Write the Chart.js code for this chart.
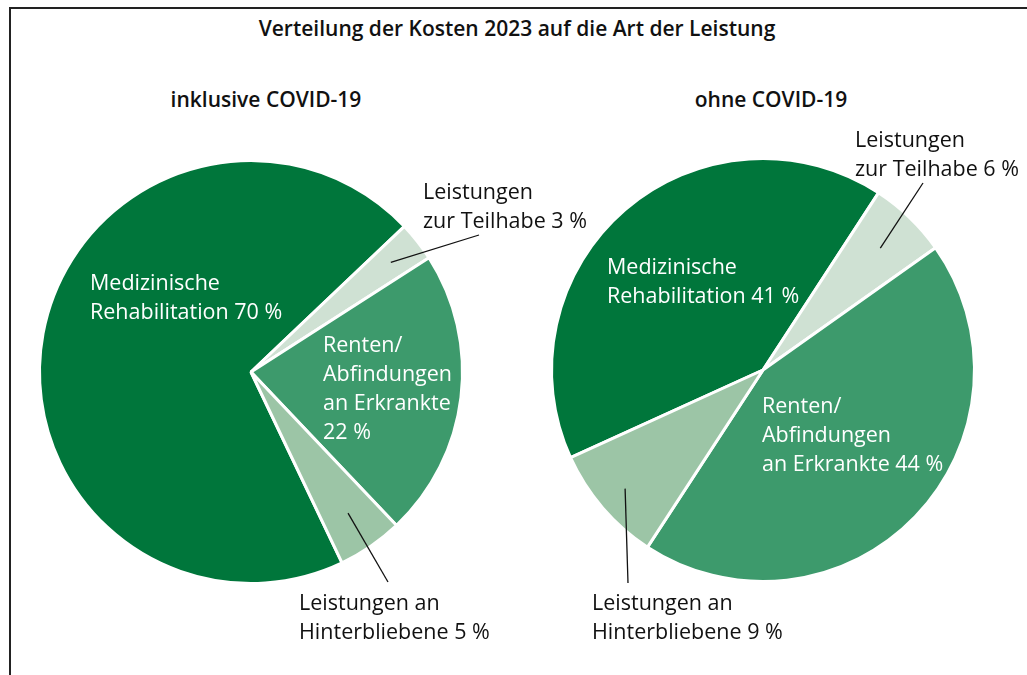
<!DOCTYPE html>
<html lang="de">
<head>
<meta charset="utf-8">
<title>Verteilung der Kosten 2023</title>
<script src="https://cdn.jsdelivr.net/npm/chart.js@4"></script>
<style>
  html, body { margin: 0; padding: 0; background: #fff; }
  body { width: 1027px; height: 675px; position: relative; overflow: hidden; font-family: "Open Sans", sans-serif; }
  .frame { position: absolute; left: 9px; top: 7px; width: 1100px; height: 800px; border-left: 2px solid #222; border-top: 2px solid #222; }
  .title { position: absolute; top: 14px; left: 0; width: 1034px; text-align: center; font-weight: 600; font-size: 21px; color: #111; }
  .sub { position: absolute; top: 85px; font-weight: 600; font-size: 21px; color: #111; text-align: center; width: 300px; }
  .wrap { position: absolute; top: 0; height: 675px; }
</style>
</head>
<body>
<div class="frame"></div>
<div class="title">Verteilung der Kosten 2023 auf die Art der Leistung</div>
<div class="sub" style="left:116px">inklusive COVID-19</div>
<div class="sub" style="left:621px">ohne COVID-19</div>
<div class="wrap" style="left:0; width:620px"><canvas id="pieInkl"></canvas></div>
<div class="wrap" style="left:513px; width:514px"><canvas id="pieOhne"></canvas></div>

<script>
// Daten
const categories = ['Medizinische Rehabilitation', 'Leistungen zur Teilhabe', 'Renten/Abfindungen an Erkrankte', 'Leistungen an Hinterbliebene'];
const inklusiveCovid = [70, 3, 22, 5];
const ohneCovid = [41, 6, 44, 9];
const colors = ['#00763b', '#cfe1d3', '#3d9a6c', '#9cc5a6'];

const FONT = '21.5px "Open Sans", sans-serif';

// Beschriftungen: Textzeilen, Position im Canvas, Farbe, optional Linie zum Segment
const labelsInkl = [
    { idx: 0, lines: ['Medizinische', 'Rehabilitation ' + inklusiveCovid[0] + ' %'], x: 90, y: 284, color: '#fff' },
    { idx: 1, lines: ['Leistungen', 'zur Teilhabe ' + inklusiveCovid[1] + ' %'], x: 423, y: 193, color: '#111', lineTo: [479, 235], frac: 0.84 },
    { idx: 2, lines: ['Renten/', 'Abfindungen', 'an Erkrankte', inklusiveCovid[2] + ' %'], x: 323, y: 346, color: '#fff' },
    { idx: 3, lines: ['Leistungen an', 'Hinterbliebene ' + inklusiveCovid[3] + ' %'], x: 299, y: 604, color: '#111', lineTo: [388, 582], frac: 0.81 }
];
const labelsOhne = [
    { idx: 0, lines: ['Medizinische', 'Rehabilitation ' + ohneCovid[0] + ' %'], x: 94, y: 268, color: '#fff' },
    { idx: 1, lines: ['Leistungen', 'zur Teilhabe ' + ohneCovid[1] + ' %'], x: 342, y: 141, color: '#111', lineTo: [410, 183], frac: 0.8 },
    { idx: 2, lines: ['Renten/', 'Abfindungen', 'an Erkrankte ' + ohneCovid[2] + ' %'], x: 249, y: 407, color: '#fff' },
    { idx: 3, lines: ['Leistungen an', 'Hinterbliebene ' + ohneCovid[3] + ' %'], x: 79, y: 604, color: '#111', lineTo: [115, 583], frac: 0.86 }
];

const pieLabels = {
    id: 'pieLabels',
    afterDatasetsDraw(chart, args, opts) {
        const ctx = chart.ctx;
        const arcs = chart.getDatasetMeta(0).data;
        ctx.save();
        ctx.font = FONT;
        ctx.textBaseline = 'middle';
        ctx.textAlign = 'left';
        opts.items.forEach(item => {
            if (item.lineTo) {
                const a = arcs[item.idx];
                const p = a.getProps(['x', 'y', 'startAngle', 'endAngle', 'outerRadius'], true);
                const mid = (p.startAngle + p.endAngle) / 2;
                ctx.beginPath();
                ctx.moveTo(p.x + Math.cos(mid) * p.outerRadius * item.frac, p.y + Math.sin(mid) * p.outerRadius * item.frac);
                ctx.lineTo(item.lineTo[0], item.lineTo[1]);
                ctx.strokeStyle = '#111';
                ctx.lineWidth = 1.3;
                ctx.stroke();
            }
            ctx.fillStyle = item.color;
            item.lines.forEach((t, i) => ctx.fillText(t, item.x, item.y + i * 29));
        });
        ctx.restore();
    }
};

function makePie(id, values, rotation, padding, items) {
    const ctx = document.getElementById(id).getContext('2d');
    return new Chart(ctx, {
        type: 'pie',
        data: {
            labels: categories,
            datasets: [{
                data: values,
                backgroundColor: colors,
                borderColor: '#fff',
                borderWidth: 3
            }]
        },
        options: {
            responsive: true,
            maintainAspectRatio: false,
            animation: false,
            rotation: rotation,
            layout: { padding: padding },
            plugins: {
                legend: { display: false },
                tooltip: { enabled: false },
                pieLabels: { items: items }
            }
        },
        plugins: [pieLabels]
    });
}

window.onload = function() {
    makePie('pieInkl', inklusiveCovid, -205.5, { left: 38, right: 156, top: 159, bottom: 90 }, labelsInkl);
    makePie('pieOhne', ohneCovid, -114.5, { left: 37, right: 51, top: 157, bottom: 92 }, labelsOhne);
};
</script>
</body>
</html>
